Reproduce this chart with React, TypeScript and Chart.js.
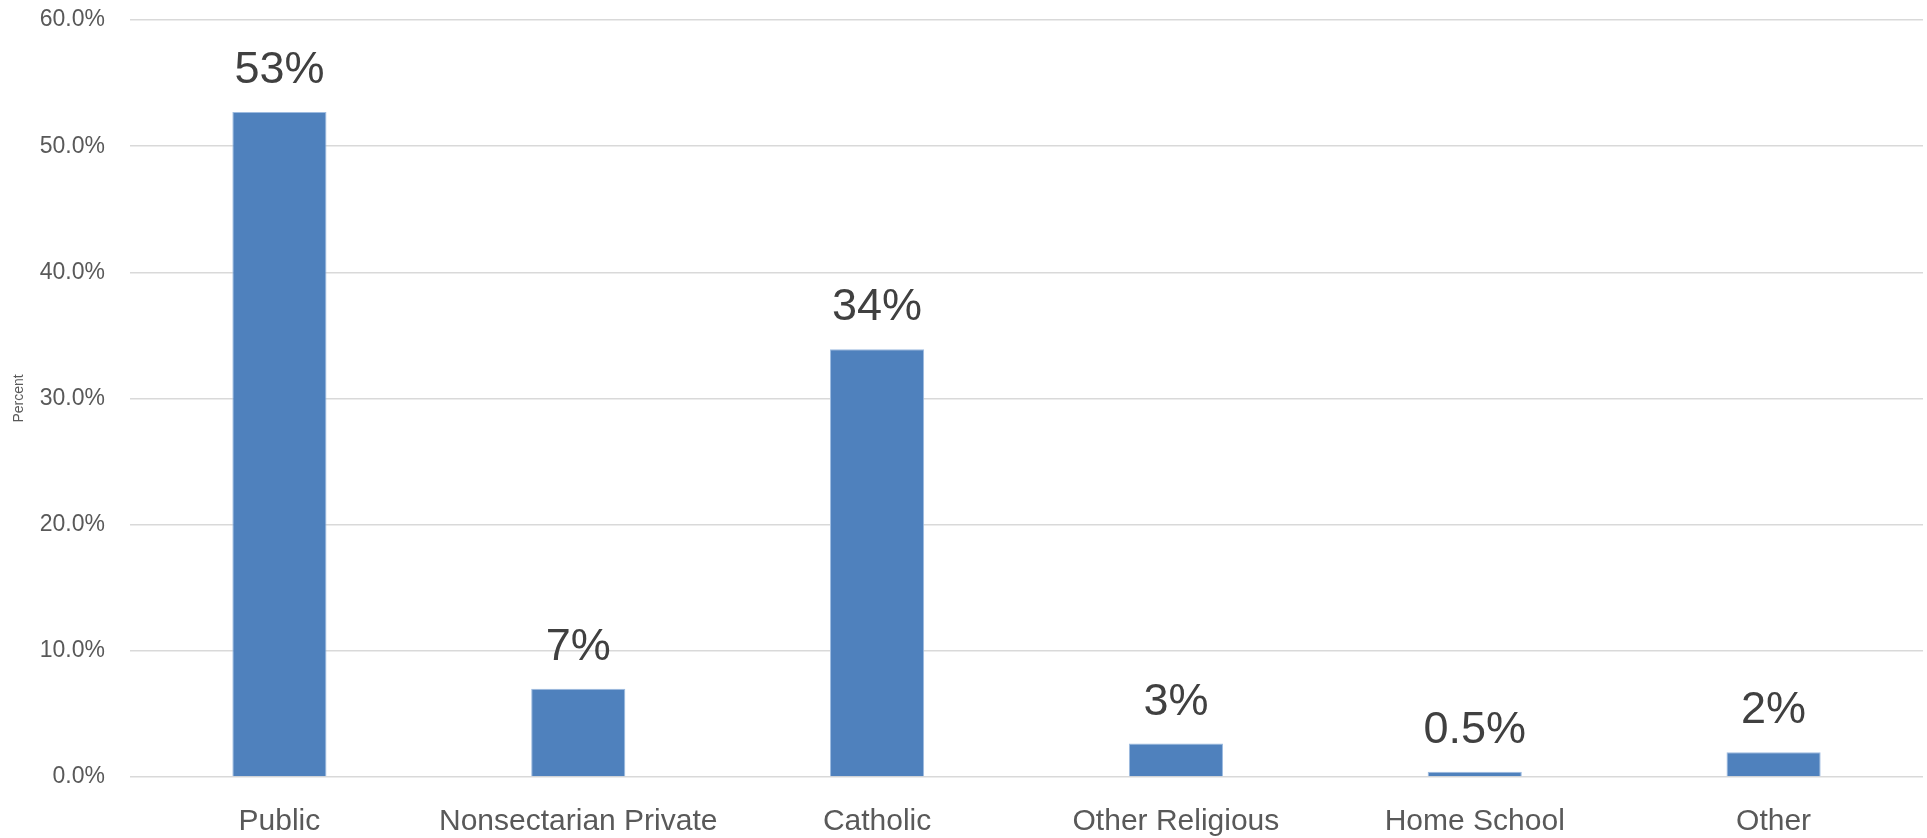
import React, { useEffect, useRef } from "react";
import { Chart, registerables } from "chart.js";

Chart.register(...registerables);

const categories = ["Public", "Nonsectarian Private", "Catholic", "Other Religious", "Home School", "Other"];
const percentValues = [52.7, 7.0, 33.9, 2.65, 0.42, 1.96];
const valueLabels = ["53%", "7%", "34%", "3%", "0.5%", "2%"];
const yTickMax = 60;
const yTickStep = 10;

const dataLabelPlugin = {
  id: "dataLabels",
  afterDatasetsDraw(chart: any) {
    const ctx = chart.ctx;
    const meta = chart.getDatasetMeta(0);
    ctx.save();
    ctx.font = "45px 'Liberation Sans', Arial, sans-serif";
    ctx.fillStyle = "#404040";
    ctx.textAlign = "center";
    ctx.textBaseline = "alphabetic";
    meta.data.forEach((bar: any, i: number) => {
      ctx.fillText(valueLabels[i], bar.x, bar.y - 29);
    });
    ctx.restore();
  },
};

export default function App() {
  const ref = useRef<HTMLCanvasElement | null>(null);
  useEffect(() => {
    document.body.style.margin = "0";
    const canvas = ref.current!;
    const chart = new Chart(canvas, {
      type: "bar",
      data: {
        labels: categories,
        datasets: [
          {
            data: percentValues,
            backgroundColor: "#4F81BD",
            borderColor: "#9dbbe0",
            borderWidth: 1,
            categoryPercentage: 1,
            barPercentage: 0.315,
          },
        ],
      },
      options: {
        responsive: false,
        animation: false,
        layout: { padding: { top: 20, right: 4, left: 0, bottom: 0 } },
        plugins: {
          legend: { display: false },
          tooltip: { enabled: false },
        },
        scales: {
          x: {
            grid: { display: false },
            border: { display: false },
            ticks: {
              color: "#595959",
              font: { family: "'Liberation Sans', Arial, sans-serif", size: 30 },
              padding: 19,
              maxRotation: 0,
              autoSkip: false,
            },
            afterFit: (s: any) => {
              s.height = 61;
            },
          },
          y: {
            min: 0,
            max: yTickMax,
            border: { display: false },
            grid: { color: "#d9d9d9", lineWidth: 1.5, drawTicks: false },
            ticks: {
              stepSize: yTickStep,
              color: "#595959",
              font: { family: "'Liberation Sans', Arial, sans-serif", size: 23 },
              padding: 25,
              callback: (v: any) => Number(v).toFixed(1) + "%",
            },
            title: {
              display: true,
              text: "Percent",
              color: "#595959",
              font: { family: "'Liberation Sans', Arial, sans-serif", size: 14 },
              padding: { top: 11, bottom: 0 },
            },
            afterFit: (s: any) => {
              s.width = 130;
              s.paddingTop = 0;
              s.paddingBottom = 0;
            },
          },
        },
      },
      plugins: [dataLabelPlugin],
    });
    return () => chart.destroy();
  }, []);
  return <canvas ref={ref} width={1927} height={838} style={{ display: "block" }} />;
}
